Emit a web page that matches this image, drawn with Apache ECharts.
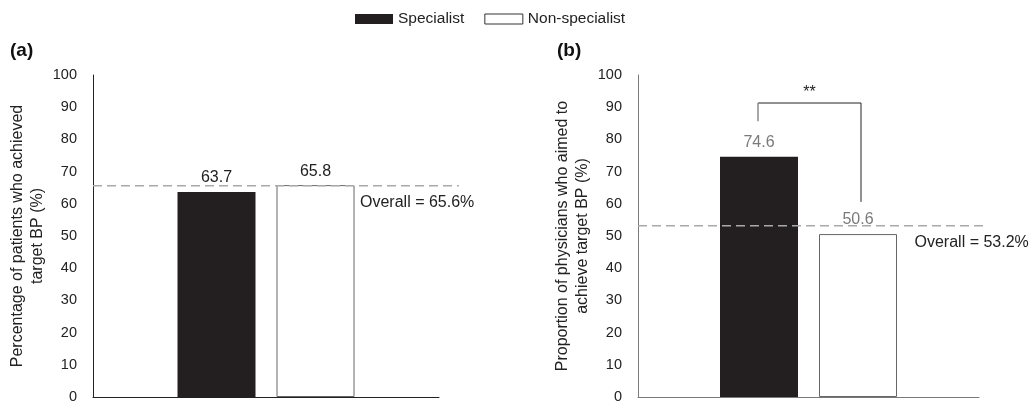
<!DOCTYPE html>
<html>
<head>
<meta charset="utf-8">
<script src="https://cdn.jsdelivr.net/npm/echarts/dist/echarts.min.js"></script>
<style>
  html, body { margin: 0; padding: 0; background: #fff; }
  #chart { width: 1035px; height: 405px; }
</style>
</head>
<body>
<div id="chart"></div>
<script>
// Groups and values for the two panels
const groups = ['Specialist', 'Non-specialist'];
const panelTags = ['(a)', '(b)'];
const axisNames = [
  'Percentage of patients who achieved\ntarget BP (%)',
  'Proportion of physicians who aimed to\nachieve target BP (%)'
];
const specialistValues = [63.7, 74.6];
const nonSpecialistValues = [65.8, 50.6];
const overallValues = [65.6, 53.2];
const yMin = 0, yMax = 100, yStep = 10;
// significance bracket (panel b only)
const sigPanel = 1;
const sigText = '**';
const sigTop = 91.3;
const sigLift = 11;

const FONT = '"Liberation Sans", Arial, sans-serif';
const BAR_W = 78;
const GAP_PX = 21;
const grids = [
  { left: 93, top: 75, width: 346, height: 322 },
  { left: 638, top: 75, width: 341, height: 322 }
];
const axisColor = ['#222', '#7a7a7a'];
const valueColor = ['#222', '#7a7a7a'];
const overallDx = [94, 106];
const overallExtend = [20, 4];

const chart = echarts.init(document.getElementById('chart'), null, { renderer: 'canvas' });

const xAxes = [], yAxes = [], series = [];
for (let i = 0; i < 2; i++) {
  xAxes.push({
    type: 'category', gridIndex: i, data: [''],
    axisLine: { show: true, lineStyle: { color: axisColor[i], width: 1 } },
    axisTick: { show: false }, axisLabel: { show: false }
  });
  yAxes.push({
    type: 'value', gridIndex: i, min: yMin, max: yMax, interval: yStep,
    name: axisNames[i], nameLocation: 'middle', nameRotate: 90, nameGap: 45,
    nameTextStyle: { fontFamily: FONT, fontSize: 16, color: '#222', lineHeight: 20 },
    axisLine: { show: true, lineStyle: { color: axisColor[i], width: 1 } },
    axisTick: { show: false }, splitLine: { show: false },
    axisLabel: { fontFamily: FONT, fontSize: 14.5, color: '#222', margin: 16 }
  });
  series.push({
    name: groups[0], type: 'bar', xAxisIndex: i, yAxisIndex: i,
    data: [specialistValues[i]], barWidth: BAR_W, barGap: (GAP_PX / BAR_W * 100) + '%',
    itemStyle: { color: '#231f20' },
    label: { show: true, position: 'top', distance: 6, fontFamily: FONT, fontSize: 16, color: valueColor[i] }
  });
  series.push({
    name: groups[1], type: 'bar', xAxisIndex: i, yAxisIndex: i,
    data: [nonSpecialistValues[i]], barWidth: BAR_W,
    itemStyle: { color: '#fff', borderColor: '#666', borderWidth: 1 },
    label: { show: true, position: 'top', distance: 6, fontFamily: FONT, fontSize: 16, color: valueColor[i] }
  });
}

chart.setOption({
  animation: false,
  backgroundColor: '#fff',
  legend: {
    left: 350, top: 6, itemWidth: 38, itemHeight: 10, itemGap: 20,
    textStyle: { fontFamily: FONT, fontSize: 15.5, color: '#222' },
    data: [
      { name: groups[0], icon: 'rect', itemStyle: { color: '#231f20' } },
      { name: groups[1], icon: 'rect', itemStyle: { color: '#fff', borderColor: '#333', borderWidth: 1 } }
    ]
  },
  grid: grids,
  xAxis: xAxes,
  yAxis: yAxes,
  series: series
});

// Annotations placed through the axes' own scales
const graphics = [];
for (let i = 0; i < 2; i++) {
  const g = grids[i];
  const finder = { xAxisIndex: i, yAxisIndex: i };
  const [cx, yOverall] = chart.convertToPixel(finder, [0, overallValues[i]]);
  // panel tag
  graphics.push({
    type: 'text', left: g.left - 83 + (i ? 2 : 0), top: 41,
    style: { text: panelTags[i], font: 'bold 19px ' + FONT, fill: '#111' }
  });
  // overall dashed reference line
  graphics.push({
    type: 'line', silent: true, z: 5,
    shape: { x1: g.left, y1: yOverall, x2: g.left + g.width + overallExtend[i], y2: yOverall },
    style: { stroke: '#a9a9a9', lineWidth: 1.6, lineDash: [9, 5] }
  });
  graphics.push({
    type: 'text', z: 5,
    x: cx + overallDx[i], y: yOverall + 17,
    style: { text: 'Overall = ' + overallValues[i].toFixed(1) + '%', font: '16px ' + FONT, fill: '#222', verticalAlign: 'middle', align: 'left' }
  });
  if (i === sigPanel) {
    const off = (BAR_W + GAP_PX) / 2;
    const xl = cx - off - 1, xr = cx + off + 3;
    const yTop = chart.convertToPixel(finder, [0, sigTop])[1];
    const yL = chart.convertToPixel(finder, [0, specialistValues[i] + sigLift])[1];
    const yR = chart.convertToPixel(finder, [0, nonSpecialistValues[i] + sigLift - 1])[1];
    graphics.push({
      type: 'polyline', silent: true,
      shape: { points: [[xl, yTop], [xr, yTop], [xr, yR]] },
      style: { stroke: '#222', lineWidth: 1, fill: null }
    });
    graphics.push({
      type: 'line', silent: true,
      shape: { x1: xl, y1: yTop, x2: xl, y2: yL },
      style: { stroke: '#8a8a8a', lineWidth: 1.5 }
    });
    graphics.push({
      type: 'text', x: (xl + xr) / 2, y: yTop - 10,
      style: { text: sigText, font: '16px ' + FONT, fill: '#222', align: 'center', verticalAlign: 'middle' }
    });
  }
}
chart.setOption({ graphic: graphics });
</script>
</body>
</html>
